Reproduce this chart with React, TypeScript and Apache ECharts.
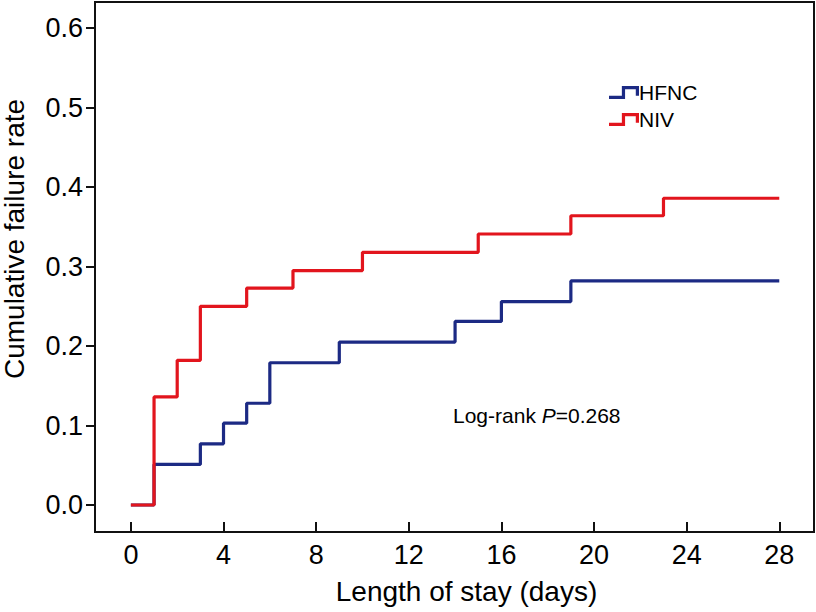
import React, { useEffect, useRef } from "react";
import * as echarts from "echarts";

const xTicks = [0, 4, 8, 12, 16, 20, 24, 28];
const yTicks = [0, 0.1, 0.2, 0.3, 0.4, 0.5, 0.6];

const hfncDays = [0, 1, 3, 4, 5, 6, 9, 14, 16, 19, 28];
const hfncRate = [0, 0.051, 0.077, 0.103, 0.128, 0.179, 0.205, 0.231, 0.256, 0.282, 0.282];

const nivDays = [0, 1, 2, 3, 5, 7, 10, 15, 19, 23, 28];
const nivRate = [0, 0.136, 0.182, 0.25, 0.273, 0.295, 0.318, 0.341, 0.364, 0.386, 0.386];

const seriesNames = ["HFNC", "NIV"];
const seriesColors = ["#1c2a84", "#e2151d"];

const FONT = "'Liberation Sans', Arial, Helvetica, sans-serif";
const stepIcon =
  "path://M0 9 L12 9 L12 0 L28 0 L28 9 L25 9 L25 3 L15 3 L15 12 L0 12 Z";

export default function App() {
  const ref = useRef<HTMLDivElement>(null);

  useEffect(() => {
    if (!ref.current) return;
    const chart = echarts.init(ref.current, undefined, { renderer: "svg" });
    const pairs = (xs: number[], ys: number[]) => xs.map((x, i) => [x, ys[i]]);
    chart.setOption({
      animation: false,
      backgroundColor: "#ffffff",
      textStyle: { fontFamily: FONT },
      grid: {
        left: 95,
        right: 2,
        top: 2,
        bottom: 80,
        containLabel: false,
        outerBoundsMode: "none",
        show: true,
        borderColor: "#111",
        borderWidth: 2,
        backgroundColor: "transparent",
      },
      legend: {
        orient: "vertical",
        left: 604,
        top: 77,
        itemWidth: 30,
        itemHeight: 13,
        itemGap: 6,
        textStyle: { fontFamily: FONT, fontSize: 21, color: "#000", padding: [0, 0, 0, -5] },
        data: seriesNames.map((n, i) => ({
          name: n,
          icon: stepIcon,
          itemStyle: { color: seriesColors[i], borderWidth: 0 },
        })),
      },
      xAxis: {
        type: "value",
        min: -1.55,
        max: 29.5,
        name: "Length of stay (days)",
        nameLocation: "middle",
        nameGap: 45,
        nameTextStyle: { fontFamily: FONT, fontSize: 28, color: "#000", padding: [0, 0, 0, 24] },
        axisLine: { show: true, onZero: false, lineStyle: { color: "#111", width: 2 } },
        axisTick: { show: true, inside: true, length: 10, customValues: xTicks, lineStyle: { color: "#111", width: 2 } },
        axisLabel: {
          customValues: xTicks,
          margin: 9,
          fontFamily: FONT,
          fontSize: 27,
          color: "#000",
        },
        splitLine: { show: false },
      },
      yAxis: {
        type: "value",
        min: -0.034,
        max: 0.633,
        name: "Cumulative failure rate",
        nameLocation: "middle",
        nameRotate: 90,
        nameGap: 67,
        nameTextStyle: { fontFamily: FONT, fontSize: 28, color: "#000", padding: [0, 0, 0, 56] },
        axisLine: { show: true, onZero: false, lineStyle: { color: "#111", width: 2 } },
        axisTick: { show: true, inside: false, length: 9, customValues: yTicks, lineStyle: { color: "#111", width: 2 } },
        axisLabel: {
          customValues: yTicks,
          margin: 12,
          fontFamily: FONT,
          fontSize: 27,
          color: "#000",
          formatter: (v: number) => v.toFixed(1),
        },
        splitLine: { show: false },
      },
      graphic: [
        {
          type: "text",
          left: 453,
          top: 405,
          style: {
            text: "Log-rank {i|P}=0.268",
            fontFamily: FONT,
            fontSize: 21,
            fill: "#000",
            rich: { i: { fontStyle: "italic", fontFamily: FONT, fontSize: 21, fill: "#000" } },
          },
        },
      ],
      series: [
        {
          name: seriesNames[0],
          type: "line",
          step: "end",
          showSymbol: false,
          symbol: "none",
          color: seriesColors[0],
          lineStyle: { color: seriesColors[0], width: 3.2 },
          data: pairs(hfncDays, hfncRate),
          z: 2,
        },
        {
          name: seriesNames[1],
          type: "line",
          step: "end",
          showSymbol: false,
          symbol: "none",
          color: seriesColors[1],
          lineStyle: { color: seriesColors[1], width: 3.2 },
          data: pairs(nivDays, nivRate),
          z: 3,
        },
      ],
    });
    return () => chart.dispose();
  }, []);

  return (
    <div
      ref={ref}
      style={{ position: "fixed", left: 0, top: 0, width: 816, height: 612, background: "#fff" }}
    />
  );
}
